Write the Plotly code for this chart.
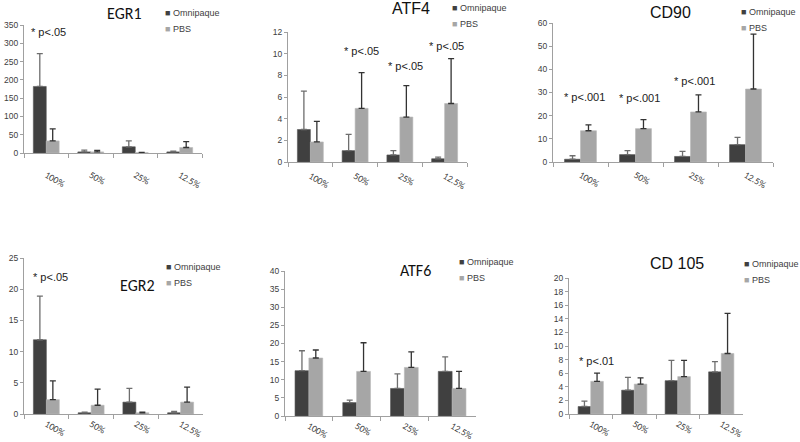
import plotly.graph_objects as go

W, H = 800, 442


def px(x):
    return x / W


def py(y):
    return 1 - y / H


categories = ["100%", "50%", "25%", "12.5%"]
series_names = ["Omnipaque", "PBS"]

# EGR1
egr1_omni = [182, 3, 17, 3]
egr1_omni_err = [90, 5, 16, 2]
egr1_pbs = [33, 3, 1, 15]
egr1_pbs_err = [33, 4, 0.3, 16]

# ATF4
atf4_omni = [3.0, 1.05, 0.65, 0.3]
atf4_omni_err = [3.55, 1.5, 0.4, 0.15]
atf4_pbs = [1.85, 4.95, 4.15, 5.4]
atf4_pbs_err = [1.9, 3.3, 2.9, 4.15]

# CD90
cd90_omni = [1.2, 3.2, 2.4, 7.5]
cd90_omni_err = [1.5, 1.7, 2.2, 3.1]
cd90_pbs = [13.5, 14.4, 21.6, 31.5]
cd90_pbs_err = [2.5, 3.9, 7.4, 23.7]

# EGR2
egr2_omni = [11.9, 0.2, 1.9, 0.2]
egr2_omni_err = [7.0, 0.1, 2.2, 0.2]
egr2_pbs = [2.3, 1.4, 0.2, 1.9]
egr2_pbs_err = [3.0, 2.6, 0.1, 2.4]

# ATF6
atf6_omni = [12.5, 3.7, 7.6, 12.3]
atf6_omni_err = [5.5, 0.7, 4.0, 4.0]
atf6_pbs = [16.0, 12.3, 13.4, 7.6]
atf6_pbs_err = [2.2, 7.9, 4.3, 4.7]

# CD 105
cd105_omni = [1.1, 3.5, 4.9, 6.2]
cd105_omni_err = [0.8, 1.9, 3.0, 1.5]
cd105_pbs = [4.8, 4.4, 5.5, 8.9]
cd105_pbs_err = [1.2, 0.9, 2.4, 5.9]

# pixel boxes: (x0, x1, ytop, ybottom); tpos = title centre; lpos = legend top-left
panels = [
    dict(title="EGR1", omni=egr1_omni, oerr=egr1_omni_err, pbs=egr1_pbs, perr=egr1_pbs_err,
         ymax=350, dtick=50, box=(24, 202, 25, 153), tpos=(124, 13), lpos=(167, 13), standoff=12,
         tfont="Carlito, Noto Sans", notes=[(0, 330, "* p<.05", 2)]),
    dict(title="ATF4", omni=atf4_omni, oerr=atf4_omni_err, pbs=atf4_pbs, perr=atf4_pbs_err,
         ymax=12, dtick=2, box=(288, 467, 32, 162), tpos=(411, 8), lpos=(454, 8), standoff=4,
         tfont="Liberation Sans", notes=[(1, 10.2, "* p<.05", 6), (2, 8.9, "* p<.05", 6), (3, 10.7, "* p<.05", 2)]),
    dict(title="CD90", omni=cd90_omni, oerr=cd90_omni_err, pbs=cd90_pbs, perr=cd90_pbs_err,
         ymax=60, dtick=10, box=(553, 773, 23, 162), tpos=(670, 12), lpos=(743, 12), standoff=3,
         tfont="Liberation Sans", notes=[(0, 28, "* p<.001", 4), (1, 27.5, "* p<.001", 4), (2, 35, "* p<.001", 4)]),
    dict(title="EGR2", omni=egr2_omni, oerr=egr2_omni_err, pbs=egr2_pbs, perr=egr2_pbs_err,
         ymax=25, dtick=5, box=(24, 203, 258, 414), tpos=(137, 285), lpos=(168, 267), standoff=0,
         tfont="Carlito, Noto Sans", notes=[(0, 22, "* p<.05", 4)]),
    dict(title="ATF6", omni=atf6_omni, oerr=atf6_omni_err, pbs=atf6_pbs, perr=atf6_pbs_err,
         ymax=40, dtick=5, box=(285, 476, 271, 416), tpos=(415, 270), lpos=(461, 262), standoff=0,
         tfont="Carlito, Noto Sans", notes=[]),
    dict(title="CD 105", omni=cd105_omni, oerr=cd105_omni_err, pbs=cd105_pbs, perr=cd105_pbs_err,
         ymax=20, dtick=2, box=(569, 743, 278, 414), tpos=(677, 263), lpos=(746, 264), standoff=0,
         tfont="Liberation Sans", notes=[(0, 7.8, "* p<.01", 6)]),
]

OMNI = "#404040"
PBS = "#a6a6a6"
AXIS = "#a0a0a0"
TICKFONT = dict(family="Liberation Sans, Arial", size=8.5, color="#404040")

fig = go.Figure()
layout = {}
annotations = []

for i, p in enumerate(panels):
    n = i + 1
    sfx = "" if n == 1 else str(n)
    x0, x1, yt, yb = p["box"]

    fig.add_trace(go.Bar(
        x=categories, y=p["omni"], name=series_names[0], showlegend=False,
        marker=dict(color=OMNI, line=dict(color="#555555", width=0.6)),
        error_y=dict(type="data", array=p["oerr"], arrayminus=[0] * 4, symmetric=False,
                     color="#6e6e6e", thickness=1.3, width=3),
        xaxis="x" + sfx, yaxis="y" + sfx,
    ))
    fig.add_trace(go.Bar(
        x=categories, y=p["pbs"], name=series_names[1], showlegend=False,
        marker=dict(color=PBS, line=dict(color="#b8b8b8", width=0.6)),
        error_y=dict(type="data", array=p["perr"], arrayminus=[0] * 4, symmetric=False,
                     color="#333333", thickness=1.3, width=3),
        xaxis="x" + sfx, yaxis="y" + sfx,
    ))

    layout["xaxis" + sfx] = dict(
        domain=[px(x0), px(x1)], anchor="y" + sfx, automargin=False,
        type="category", showgrid=False, showline=True, linecolor=AXIS, linewidth=1,
        ticks="outside", tickson="boundaries", ticklen=4, tickcolor=AXIS,
        tickangle=30, tickfont=dict(family="Carlito, Liberation Sans", size=9.5, color="#404040"),
        ticklabelstandoff=p["standoff"], fixedrange=True,
    )
    layout["yaxis" + sfx] = dict(
        domain=[py(yb), py(yt)], anchor="x" + sfx, automargin=False,
        range=[0, p["ymax"]], dtick=p["dtick"], showgrid=False, zeroline=False,
        showline=True, linecolor=AXIS, linewidth=1, ticks="outside", ticklen=3,
        tickcolor=AXIS, tickfont=TICKFONT, ticklabelstandoff=0, fixedrange=True,
    )

    # legend drawn as small coloured squares + labels
    lx, ly = p["lpos"]
    for k, (name, col) in enumerate(zip(series_names, [OMNI, PBS])):
        annotations.append(dict(
            text=f'<span style="color:{col}">■</span><span style="color:#404040"> {name}</span>',
            x=px(lx - 4), y=py(ly + 16 * k), xref="paper", yref="paper",
            showarrow=False, xanchor="left", yanchor="middle",
            font=dict(family="Liberation Sans, Arial", size=9, color="#404040"),
        ))

    annotations.append(dict(
        text=p["title"], x=px(p["tpos"][0]), y=py(p["tpos"][1]), xref="paper", yref="paper",
        showarrow=False, xanchor="center", yanchor="middle",
        font=dict(family=p["tfont"], size=16, color="#111111"),
    ))
    for ci, yv, txt, xs in p["notes"]:
        annotations.append(dict(
            text=txt, x=categories[ci], y=yv, xref="x" + sfx, yref="y" + sfx,
            showarrow=False, xanchor="center", yanchor="middle", xshift=xs,
            font=dict(family="Liberation Sans, Arial", size=11, color="#222222"),
        ))

fig.update_layout(
    width=W, height=H,
    margin=dict(l=0, r=0, t=0, b=0, autoexpand=False),
    paper_bgcolor="white", plot_bgcolor="white",
    barmode="group", bargap=0.42, bargroupgap=0,
    showlegend=False,
    annotations=annotations,
    **layout,
)

# drop the browser's default 8px body margin so the figure fills the window
fig.write_html("out.html", config={"displayModeBar": False},
               post_script="document.body.style.margin='0px';")
